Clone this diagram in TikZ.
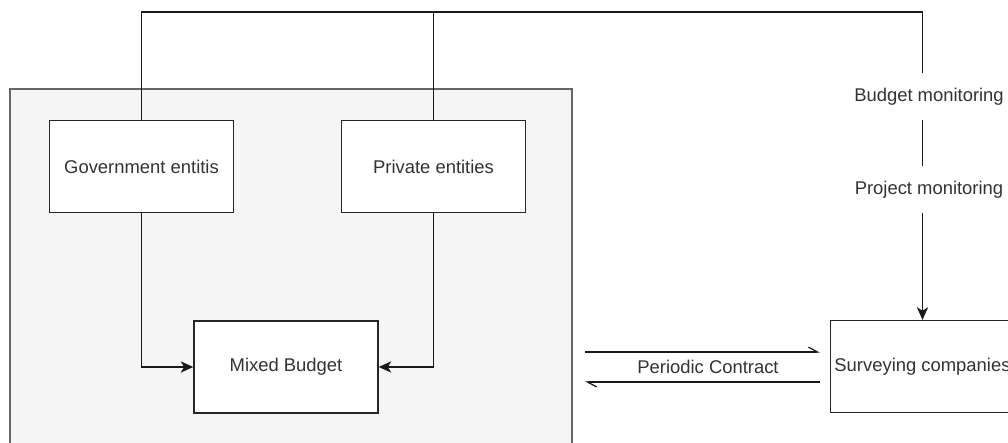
\documentclass[tikz,border=0pt]{standalone}
\usepackage{fontspec}
\setmainfont{Liberation Sans}
\usetikzlibrary{arrows.meta}
\definecolor{panelgray}{HTML}{F5F5F5}
\definecolor{panelline}{HTML}{666666}
\definecolor{inkgray}{HTML}{333333}

\begin{document}
\begin{tikzpicture}[x=0.025cm, y=-0.025cm,
    every node/.style={font=\fontsize{13.1}{15}\selectfont, text=inkgray},
    unitbox/.style={draw=black!85, fill=white, line width=0.9pt, minimum width=4.6cm, minimum height=2.3cm, inner sep=0pt},
    conn/.style={draw=black!90, line width=0.9pt},
    flowtip/.style={-{Stealth[length=9pt, width=8pt, inset=2.5pt]}},
    halftip/.style={-{Straight Barb[harpoon, length=6.5pt, width=7pt]}},
    monlabel/.style={fill=white, inner xsep=1pt, minimum height=1.15cm}]
  \useasboundingbox (0,0) rectangle (1008,442);
  \clip (0,0) rectangle (1008,442);
  \draw[panelline, fill=panelgray, line width=0.9pt] (10,89) rectangle (572,470);
  \node[unitbox] (gov) at (141.5,166.5) {Government entitis};
  \node[unitbox] (priv) at (433.5,166.5) {Private entities};
  \node[unitbox] (mixed) at (286,367) {Mixed Budget};
  \node[unitbox] (surv) at (922.5,366.5) {Surveying companies};
  \coordinate (topR) at (surv.north |- 0,12);
  \draw[conn, flowtip] (gov.north) |- (topR) -- (surv.north);
  \draw[conn] (priv.north) -- (priv.north |- topR);
  \node[monlabel] (budmon) at (929,96.5) {Budget monitoring};
  \node[monlabel] (projmon) at (929,189.5) {Project monitoring};
  \draw[conn, flowtip] (gov.south) |- (mixed.west);
  \draw[conn, flowtip] (priv.south) |- (mixed.east);
  \coordinate (pcA) at (585,352);
  \coordinate (pcB) at (820,352);
  \coordinate (pcC) at (820,382);
  \coordinate (pcD) at (585,382);
  \draw[conn, halftip] (pcA) -- (pcB);
  \draw[conn, halftip] (pcC) -- (pcD);
  \node (contract) at (708,367) {Periodic Contract};
\end{tikzpicture}
\end{document}
